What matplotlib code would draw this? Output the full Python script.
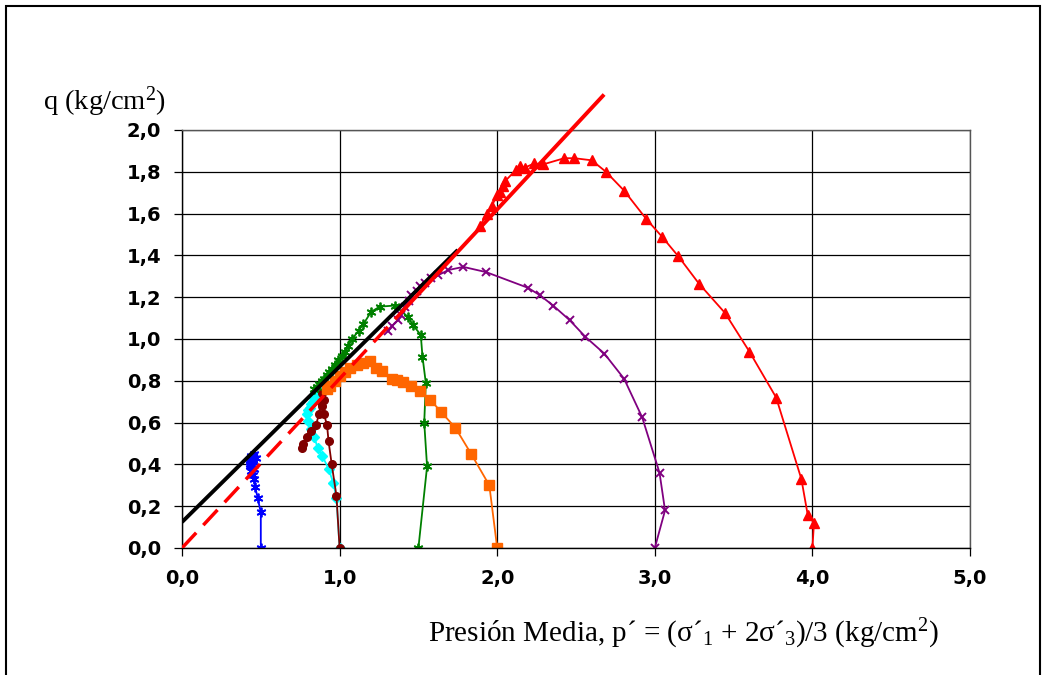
import matplotlib
matplotlib.use("Agg")
import matplotlib.pyplot as plt
from matplotlib.patches import Rectangle
from matplotlib.ticker import MultipleLocator, FuncFormatter

plt.rcParams['mathtext.fontset'] = 'custom'
plt.rcParams['mathtext.rm'] = 'Liberation Serif'
plt.rcParams['mathtext.it'] = 'Liberation Serif:italic'

# stress paths, p' and q (kg/cm2)
blue_p = [0.50, 0.50, 0.48, 0.465, 0.455, 0.45, 0.44, 0.43, 0.44, 0.45, 0.43, 0.44,
          0.45, 0.46, 0.44, 0.47, 0.45, 0.43, 0.46]
blue_q = [0.00, 0.17, 0.24, 0.29, 0.33, 0.35, 0.37, 0.39, 0.40, 0.41, 0.42, 0.43,
          0.44, 0.45, 0.44, 0.43, 0.42, 0.40, 0.38]

cyan_p = [1.00, 0.98, 0.96, 0.93, 0.89, 0.86, 0.84, 0.82, 0.80, 0.79, 0.80, 0.81,
          0.82, 0.83, 0.84, 0.85, 0.86, 0.87]
cyan_q = [0.00, 0.24, 0.31, 0.38, 0.44, 0.48, 0.53, 0.57, 0.61, 0.64, 0.66, 0.67,
          0.69, 0.70, 0.72, 0.73, 0.75, 0.76]

brown_p = [1.00, 0.98, 0.95, 0.93, 0.92, 0.90, 0.89, 0.90, 0.89, 0.88, 0.87, 0.85,
           0.82, 0.79, 0.77, 0.76]
brown_q = [0.00, 0.25, 0.40, 0.51, 0.59, 0.64, 0.68, 0.71, 0.74, 0.70, 0.64, 0.59,
           0.56, 0.53, 0.50, 0.48]

green_p = [1.50, 1.555, 1.537, 1.547, 1.526, 1.515, 1.467, 1.435, 1.35, 1.255, 1.20,
           1.15, 1.12, 1.08, 1.055, 1.035, 1.013, 0.99, 0.97, 0.95, 0.935, 0.92, 0.90,
           0.886, 0.87, 0.855, 0.84]
green_q = [0.00, 0.39, 0.60, 0.79, 0.915, 1.02, 1.065, 1.105, 1.16, 1.155, 1.13,
           1.07, 1.04, 1.00, 0.965, 0.94, 0.92, 0.90, 0.875, 0.855, 0.84, 0.83, 0.81,
           0.80, 0.785, 0.77, 0.76]

orange_p = [2.00, 1.95, 1.835, 1.735, 1.645, 1.575, 1.51, 1.455, 1.405, 1.365, 1.33,
            1.27, 1.23, 1.195, 1.15, 1.11, 1.065, 1.035, 1.00, 0.97, 0.94, 0.92]
orange_q = [0.00, 0.30, 0.45, 0.575, 0.65, 0.71, 0.75, 0.775, 0.795, 0.805, 0.81,
            0.845, 0.86, 0.895, 0.885, 0.875, 0.86, 0.84, 0.825, 0.80, 0.775, 0.76]

purple_p = [3.00, 3.065, 3.03, 2.92, 2.805, 2.68, 2.56, 2.46, 2.355, 2.27, 2.195,
            1.93, 1.785, 1.69, 1.625, 1.58, 1.545, 1.51, 1.49, 1.455, 1.44, 1.415,
            1.39, 1.37, 1.33, 1.31]
purple_q = [0.00, 0.18, 0.36, 0.625, 0.81, 0.93, 1.01, 1.09, 1.16, 1.21, 1.245,
            1.32, 1.345, 1.33, 1.305, 1.29, 1.27, 1.255, 1.23, 1.21, 1.18, 1.155,
            1.115, 1.09, 1.06, 1.04]

red_p = [4.00, 4.01, 3.97, 3.93, 3.77, 3.60, 3.445, 3.28, 3.15, 3.045, 2.945, 2.805,
         2.69, 2.60, 2.49, 2.425, 2.29, 2.235, 2.175, 2.145, 2.12, 2.05, 2.035, 2.015,
         2.00, 1.965, 1.935, 1.89]
red_q = [0.00, 0.12, 0.16, 0.33, 0.72, 0.94, 1.125, 1.265, 1.395, 1.49, 1.575, 1.71,
         1.80, 1.855, 1.865, 1.865, 1.835, 1.84, 1.82, 1.83, 1.81, 1.755, 1.73, 1.705,
         1.69, 1.635, 1.60, 1.54]

# failure lines
black_p = [0.0, 1.75]
black_q = [0.124, 1.426]
red_dash_p = [0.0, 1.40]
red_dash_q = [0.0, 1.134]
red_line_p = [1.40, 2.67]
red_line_q = [1.134, 2.163]

xticks = [0, 1, 2, 3, 4, 5]

fig = plt.figure(figsize=(10.47, 6.75), dpi=100)
ax = fig.add_axes([182/1047, 1-548/675, (970-182)/1047, (548-130)/675])

star = (6, 2, 0)
ax.plot(blue_p, blue_q, color='#0000FF', lw=1.3, marker=star, ms=7, mew=1.3)
ax.plot(cyan_p, cyan_q, color='#00FFFF', lw=1.3, marker='D', ms=5)
ax.plot(brown_p, brown_q, color='#800000', lw=1.3, marker='o', ms=5.5)
ax.plot(green_p, green_q, color='#008000', lw=1.3, marker=star, ms=7, mew=1.3)
ax.plot(orange_p, orange_q, color='#FF6600', lw=1.3, marker='s', ms=6.5)
ax.plot(purple_p, purple_q, color='#800080', lw=1.3, marker='x', ms=6, mew=1.4)
ax.plot(red_p, red_q, color='#FF0000', lw=1.3, marker='^', ms=6.5)

ax.plot(black_p, black_q, color='black', lw=2.8, solid_capstyle='butt', zorder=5)
ax.plot(red_dash_p, red_dash_q, color='#FF0000', lw=2.5, dashes=(6, 3), zorder=5)
ax.plot(red_line_p, red_line_q, color='#FF0000', lw=2.8, zorder=5, clip_on=False)

ax.set_xlim(0, 5)
ax.set_ylim(0, 2)
ax.set_xticks(xticks)
ax.yaxis.set_major_locator(MultipleLocator(0.2))
fmt = FuncFormatter(lambda v, pos: f"{v:.1f}".replace('.', ','))
ax.xaxis.set_major_formatter(fmt)
ax.yaxis.set_major_formatter(fmt)
ax.grid(True, color='black', lw=0.9)
ax.set_axisbelow(True)
for s in ax.spines.values():
    s.set_color('#555555')
    s.set_linewidth(1.0)
ax.spines['left'].set_color('black')
ax.spines['bottom'].set_color('black')
ax.tick_params(direction='out', length=6, width=0.9, pad=9)
for lbl in ax.get_xticklabels() + ax.get_yticklabels():
    lbl.set_fontfamily('DejaVu Sans')
    lbl.set_fontweight('bold')
    lbl.set_fontsize(14)

fig.text(43/1047, 1-110/675, r'q (kg/cm$^2$)', family='Liberation Serif',
         fontsize=20.5, va='baseline', ha='left')
fig.text(428/1047, 1-642/675,
         'Presión Media, p´ = (σ´$_1$ + 2σ´$_3$)/3 (kg/cm$^2$)',
         family='Liberation Serif', fontsize=21, va='baseline', ha='left')

fig.patches.append(Rectangle((6/1047, -0.02), 1034/1047, 1.02-6/675,
                             transform=fig.transFigure, fill=False,
                             edgecolor='black', lw=1.5))

fig.savefig('out.png', dpi=100)
